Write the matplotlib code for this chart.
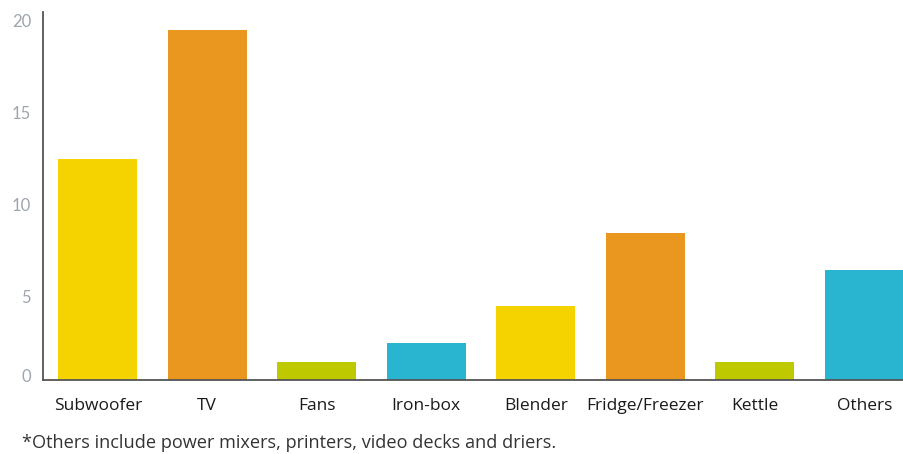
import matplotlib.pyplot as plt

# --- datos ---
categorias = ["Subwoofer", "TV", "Fans", "Iron-box", "Blender",
              "Fridge/Freezer", "Kettle", "Others"]
valores = [12, 19, 1, 2, 4, 8, 1, 6]
colores = ["#F5D300", "#EA971F", "#BEC900", "#29B4CF",
           "#F5D300", "#EA971F", "#BEC900", "#29B4CF"]
ticks_y = [0, 5, 10, 15, 20]
nota = "*Others include power mixers, printers, video decks and driers."

plt.rcParams['font.family'] = ['Open Sans', 'DejaVu Sans']

fig = plt.figure(figsize=(9.04, 4.54), dpi=100)
W, H = 904, 454
ax = fig.add_axes([43 / W, (H - 380) / H, (919 - 43) / W, 368 / H])

ax.bar(range(len(categorias)), valores, width=0.72, color=colores, zorder=1)

ax.set_xlim(-0.5, len(categorias) - 0.5)
ax.set_ylim(0, 20)

for s in ["top", "right"]:
    ax.spines[s].set_visible(False)
ax.spines["left"].set_color("#555555")
ax.spines["bottom"].set_color("#555555")
ax.spines["left"].set_linewidth(1.3)
ax.spines["bottom"].set_linewidth(1.3)

ax.set_yticks(ticks_y)
ax.set_yticklabels([])
ax.tick_params(axis="both", length=0)
for t in ticks_y:
    va = "baseline" if t == 0 else "top"
    yy = -0.1 if t == 0 else t - 0.1
    ax.text(-0.61, yy, str(t), ha="right", va=va, fontsize=12,
            color="#9FA5AD", family=['Lato', 'DejaVu Sans'])

ax.set_xticks(range(len(categorias)))
ax.set_xticklabels(categorias, fontsize=12.5, color="#1A1A1A")
ax.tick_params(axis="x", pad=13)

fig.text(22 / W, 1 - 443 / H, nota, ha="left", va="center",
         fontsize=13.1, color="#333333")

fig.savefig("out.png", dpi=100)
